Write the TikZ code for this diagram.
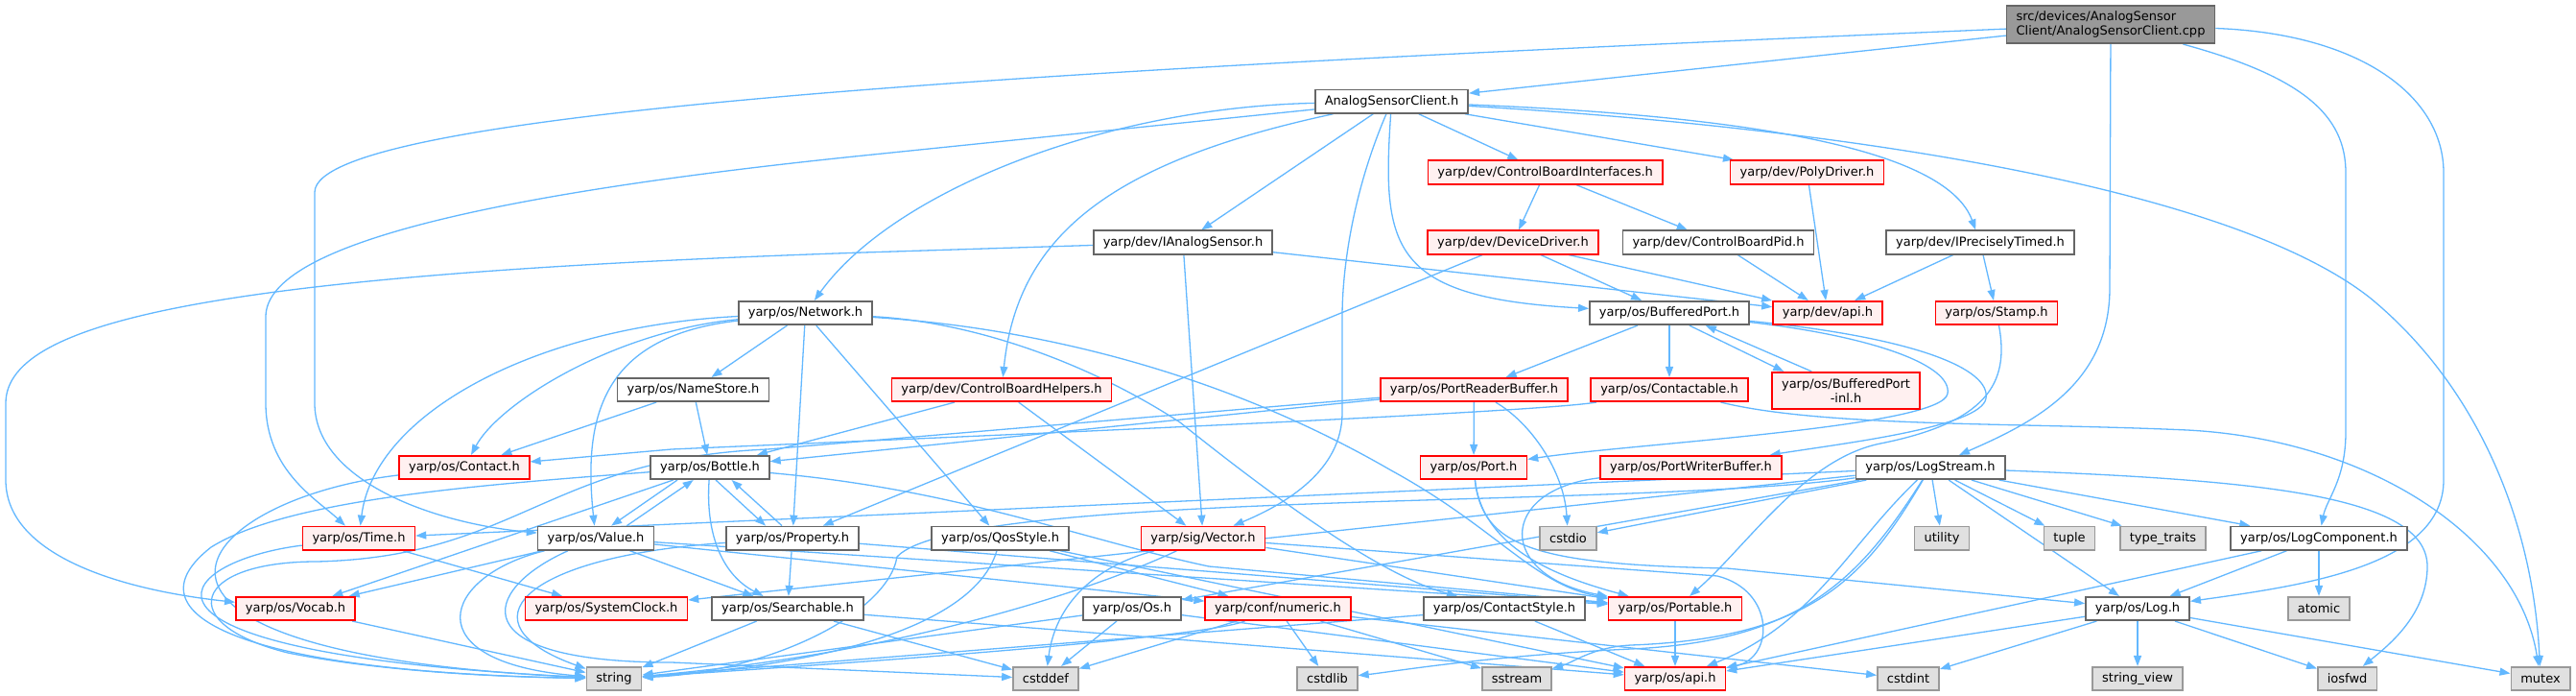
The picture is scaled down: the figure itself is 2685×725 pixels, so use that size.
\documentclass[tikz,border=0pt]{standalone}
\usepackage{fontspec}
\setmainfont{DejaVu Sans}
\usepackage{tikz}
\usetikzlibrary{arrows.meta}
\definecolor{edgeblue}{HTML}{63B8FF}
\definecolor{truncred}{HTML}{FF0000}
\definecolor{truncfill}{HTML}{FFF0F0}
\definecolor{sysfill}{HTML}{E0E0E0}
\definecolor{sysline}{HTML}{999999}
\definecolor{fileline}{HTML}{666666}
\definecolor{mainfill}{HTML}{999999}
\pgfdeclarelayer{bg}
\pgfsetlayers{bg,main}

\begin{document}
\begin{tikzpicture}[x=1pt, y=-1pt,
    nodebox/.style={draw, line width=1.6pt, minimum height=24.5pt, inner xsep=10pt, inner ysep=1pt, font=\fontsize{13}{15}\selectfont},
    hdr/.style={nodebox, draw=fileline, fill=white},
    trunchdr/.style={nodebox, draw=truncred, fill=truncfill},
    syshdr/.style={nodebox, draw=sysline, fill=sysfill},
    mainhdr/.style={nodebox, draw=fileline, fill=mainfill, align=left, minimum height=39.5pt},
    dep/.style={draw=edgeblue, line width=1.3pt, -{Triangle[length=11pt,width=8pt]}}]
                \useasboundingbox (0,0) rectangle (2685,725);

                % 1. The source file and the headers, row by row
                \node[mainhdr] (cpp) at (2200,25.5) {src/devices/AnalogSensor\\Client/AnalogSensorClient.cpp};
                \node[hdr] (asc) at (1450.5,105.7) {AnalogSensorClient.h};

                \node[trunchdr] (cbi) at (1610.6,179.5) {yarp/dev/ControlBoardInterfaces.h};
                \node[trunchdr] (poly) at (1883.5,179.5) {yarp/dev/PolyDriver.h};

                \node[hdr] (ias) at (1233,252.5) {yarp/dev/IAnalogSensor.h};
                \node[trunchdr] (dd) at (1577,252.5) {yarp/dev/DeviceDriver.h};
                \node[hdr] (cbp) at (1791,252.5) {yarp/dev/ControlBoardPid.h};
                \node[hdr] (ipt) at (2064,252.5) {yarp/dev/IPreciselyTimed.h};

                \node[hdr] (net) at (839.5,326) {yarp/os/Network.h};
                \node[hdr] (bp) at (1740,326) {yarp/os/BufferedPort.h};
                \node[trunchdr] (devapi) at (1905,326) {yarp/dev/api.h};
                \node[trunchdr] (stamp) at (2081,326) {yarp/os/Stamp.h};

                \node[hdr] (ns) at (722.5,406) {yarp/os/NameStore.h};
                \node[trunchdr] (cbh) at (1044,406) {yarp/dev/ControlBoardHelpers.h};
                \node[trunchdr] (prb) at (1536.4,406) {yarp/os/PortReaderBuffer.h};
                \node[trunchdr] (ctb) at (1740,406) {yarp/os/Contactable.h};
                \node[trunchdr, align=center, minimum height=38pt] (bpinl) at (1924,406.7) {yarp/os/BufferedPort\\-inl.h};

                \node[trunchdr] (contact) at (484,487) {yarp/os/Contact.h};
                \node[hdr] (bottle) at (740,487) {yarp/os/Bottle.h};
                \node[trunchdr] (port) at (1536,487) {yarp/os/Port.h};
                \node[trunchdr] (pwb) at (1762.5,487) {yarp/os/PortWriterBuffer.h};
                \node[hdr] (ls) at (2012,487) {yarp/os/LogStream.h};

                \node[trunchdr] (time) at (374,560.7) {yarp/os/Time.h};
                \node[hdr] (value) at (621,560.7) {yarp/os/Value.h};
                \node[hdr] (prop) at (826,560.7) {yarp/os/Property.h};
                \node[hdr] (qos) at (1042.6,560.7) {yarp/os/QosStyle.h};
                \node[trunchdr] (vec) at (1254,560.7) {yarp/sig/Vector.h};
                \node[syshdr] (cstdio) at (1634.5,560.7) {cstdio};
                \node[syshdr] (utility) at (2024,560.7) {utility};
                \node[syshdr] (tuple) at (2157,560.7) {tuple};
                \node[syshdr] (traits) at (2254.5,560.7) {type\_traits};
                \node[hdr] (lc) at (2417,560.7) {yarp/os/LogComponent.h};

                \node[trunchdr] (vocab) at (308,634) {yarp/os/Vocab.h};
                \node[trunchdr] (sc) at (632,634) {yarp/os/SystemClock.h};
                \node[hdr] (srch) at (821,634) {yarp/os/Searchable.h};
                \node[hdr] (os) at (1180,634) {yarp/os/Os.h};
                \node[trunchdr] (num) at (1332,634) {yarp/conf/numeric.h};
                \node[hdr] (cs) at (1568,634) {yarp/os/ContactStyle.h};
                \node[trunchdr] (portable) at (1746,634) {yarp/os/Portable.h};
                \node[hdr] (log) at (2228,634) {yarp/os/Log.h};
                \node[syshdr] (atomic) at (2417,634) {atomic};

                \node[syshdr] (string) at (640,707) {string};
                \node[syshdr] (cstddef) at (1090,707) {cstddef};
                \node[syshdr] (cstdlib) at (1383.5,707) {cstdlib};
                \node[syshdr] (sstream) at (1581,707) {sstream};
                \node[trunchdr] (osapi) at (1746,707) {yarp/os/api.h};
                \node[syshdr] (cstdint) at (1989,707) {cstdint};
                \node[syshdr] (sview) at (2228,707) {string\_view};
                \node[syshdr] (iosfwd) at (2446.6,707) {iosfwd};
                \node[syshdr] (mutex) at (2648,707) {mutex};

                \begin{pgfonlayer}{bg}
                \fill[white] (0,0) rectangle (2685,725);

                % 2. Includes of the source file
                \draw[dep] (cpp) -- (asc);
                \draw[dep] (cpp) .. controls (1200,68) and (330,110) .. (328,200) -- (328,420) .. controls (328,500) and (450,545) .. (value);
                \draw[dep] (cpp) -- (2199,300) .. controls (2199,400) and (2120,440) .. (ls);
                \draw[dep] (cpp) .. controls (2400,80) and (2445,120) .. (2445,180) -- (2445,450) .. controls (2445,500) and (2425,520) .. (lc);
                \draw[dep] (cpp) .. controls (2460,35) and (2547,100) .. (2547,180) -- (2547,500) .. controls (2547,590) and (2400,610) .. (log);

                % 3. Includes of AnalogSensorClient.h
                \draw[dep] (asc) .. controls (1150,112) and (930,200) .. (net);
                \draw[dep] (asc) -- (900,162) .. controls (480,205) and (277,260) .. (277,330) -- (277,420) .. controls (277,490) and (330,520) .. (time);
                \draw[dep] (asc) .. controls (1150,170) and (1060,250) .. (cbh);
                \draw[dep] (asc) -- (ias);
                \draw[dep] (asc) .. controls (1410,200) and (1399,280) .. (1399,330) -- (1399,430) .. controls (1399,490) and (1340,525) .. (vec);
                \draw[dep] (asc) .. controls (1440,260) and (1450,310) .. (bp);
                \draw[dep] (asc) -- (cbi);
                \draw[dep] (asc) -- (poly);
                \draw[dep] (asc) .. controls (1850,122) and (2030,160) .. (ipt);
                \draw[dep] (asc) .. controls (1950,135) and (2330,200) .. (2470,310) .. controls (2580,400) and (2640,540) .. (mutex);

                % 4. yarp/dev headers
                \draw[dep] (ias) -- (900,263) .. controls (250,285) and (6,330) .. (6,420) -- (6,500) .. controls (6,580) and (130,615) .. (vocab);
                \draw[dep] (ias) -- (vec);
                \draw[dep] (ias) -- (devapi);
                \draw[dep] (cbi) -- (dd);
                \draw[dep] (cbi) -- (cbp);
                \draw[dep] (poly) -- (devapi);
                \draw[dep] (dd) -- (bp);
                \draw[dep] (dd) -- (devapi);
                \draw[dep] (dd) -- (prop);
                \draw[dep] (cbp) -- (devapi);
                \draw[dep] (ipt) -- (devapi);
                \draw[dep] (ipt) -- (stamp);
                \draw[dep] (cbh) -- (bottle);
                \draw[dep] (cbh) -- (vec);

                % 5. Network.h and NameStore.h
                \draw[dep] (net) -- (ns);
                \draw[dep] (net) .. controls (640,345) and (520,420) .. (contact);
                \draw[dep] (net) .. controls (560,340) and (390,430) .. (time);
                \draw[dep] (net) .. controls (630,350) and (607,430) .. (value);
                \draw[dep] (net) -- (prop);
                \draw[dep] (net) -- (qos);
                \draw[dep] (net) .. controls (1010,335) and (1130,375) .. (1230,440) .. controls (1330,520) and (1440,600) .. (cs);
                \draw[dep] (net) .. controls (1060,340) and (1260,380) .. (1450,490) .. controls (1560,550) and (1600,610) .. (portable);
                \draw[dep] (ns) -- (contact);
                \draw[dep] (ns) -- (bottle);

                % 6. BufferedPort.h and the port headers
                \draw[dep] (bp) -- (prb);
                \draw[dep] (bp) -- (ctb);
                \draw[dep] (bp.-32) -- (bpinl.163);
                \draw[dep] (bpinl.151) -- (bp.-19);
                \draw[dep] (bp) .. controls (1950,350) and (2035,380) .. (2030,410) .. controls (2025,445) and (1700,462) .. (port);
                \draw[dep] (bp) .. controls (2000,352) and (2075,385) .. (2070,415) .. controls (2065,445) and (1920,462) .. (pwb);
                \draw[dep] (prb) -- (port);
                \draw[dep] (prb) .. controls (1595,440) and (1630,490) .. (cstdio);
                \draw[dep] (prb) -- (bottle);
                \draw[dep] (prb) -- (800,468) .. controls (570,478) and (540,580) .. (330,585) .. controls (200,585) and (180,650) .. (300,680) .. controls (400,700) and (520,705) .. (string);
                \draw[dep] (ctb) .. controls (1600,430) and (1000,455) .. (700,468) -- (contact);
                \draw[dep] (ctb) .. controls (1900,445) and (2100,440) .. (2280,448) .. controls (2470,458) and (2625,560) .. (mutex);
                \draw[dep] (stamp) .. controls (2095,400) and (2070,440) .. (1960,462) .. controls (1880,478) and (1820,570) .. (portable);
                \draw[dep] (port) .. controls (1545,570) and (1620,600) .. (portable);
                \draw[dep] (port) .. controls (1545,570) and (1600,588) .. (1800,592) -- (log);
                \draw[dep] (pwb) .. controls (1560,510) and (1560,600) .. (portable);

                % 7. LogStream.h, LogComponent.h and Log.h
                \draw[dep] (ls) -- (utility);
                \draw[dep] (ls) -- (tuple);
                \draw[dep] (ls) -- (traits);
                \draw[dep] (ls) -- (lc);
                \draw[dep] (ls) -- (log);
                \draw[dep] (ls) .. controls (2350,500) and (2530,515) .. (2530,590) .. controls (2530,640) and (2490,672) .. (iosfwd);
                \draw[dep] (ls) -- (time);
                \draw[dep] (ls) -- (sc);
                \draw[dep] (ls) -- (os);
                \draw[dep] (ls) -- (cstdio);
                \draw[dep] (ls) .. controls (1945,600) and (1890,665) .. (1700,672) .. controls (1660,674) and (1640,690) .. (sstream);
                \draw[dep] (ls) .. controls (1940,600) and (1880,668) .. (1700,676) .. controls (1550,683) and (1450,700) .. (cstdlib);
                \draw[dep] (ls) .. controls (1700,530) and (1000,510) .. (935,580) .. controls (925,640) and (800,700) .. (string);
                \draw[dep] (ls) .. controls (1925,570) and (1890,650) .. (osapi);
                \draw[dep] (lc) -- (log);
                \draw[dep] (lc) -- (atomic);
                \draw[dep] (lc) -- (osapi);
                \draw[dep] (log) -- (osapi);
                \draw[dep] (log) -- (cstdint);
                \draw[dep] (log) -- (sview);
                \draw[dep] (log) -- (iosfwd);
                \draw[dep] (log) -- (mutex);

                % 8. Bottle.h, Value.h and Property.h
                \draw[dep] (bottle.-159) -- (value.39);
                \draw[dep] (value.22) -- (bottle.-143);
                \draw[dep] (bottle.-65) -- (prop.155);
                \draw[dep] (prop.130) -- (bottle.-30);
                \draw[dep] (bottle) .. controls (735,560) and (755,600) .. (srch);
                \draw[dep] (bottle) -- (vocab);
                \draw[dep] (bottle) .. controls (500,505) and (300,520) .. (220,570) .. controls (130,640) and (250,700) .. (string);
                \draw[dep] (bottle) .. controls (1000,510) and (1120,560) .. (1260,590) -- (portable);
                \draw[dep] (value) -- (vocab);
                \draw[dep] (value) -- (srch);
                \draw[dep] (value) .. controls (460,600) and (430,690) .. (string);
                \draw[dep] (value) -- (portable);
                \draw[dep] (value) -- (num);
                \draw[dep] (value) .. controls (500,615) and (480,690) .. (700,690) -- (cstddef);
                \draw[dep] (prop) -- (srch);
                \draw[dep] (prop) .. controls (540,580) and (480,650) .. (string);
                \draw[dep] (prop) -- (portable);

                % 9. The lower headers
                \draw[dep] (srch) -- (string);
                \draw[dep] (srch) -- (cstddef);
                \draw[dep] (srch) -- (osapi);
                \draw[dep] (time) -- (sc);
                \draw[dep] (time) .. controls (180,585) and (90,680) .. (string);
                \draw[dep] (contact) .. controls (200,520) and (60,680) .. (string);
                \draw[dep] (vocab) -- (string);
                \draw[dep] (qos) .. controls (1020,640) and (900,690) .. (string);
                \draw[dep] (qos) -- (num);
                \draw[dep] (qos) -- (osapi);
                \draw[dep] (vec) .. controls (1140,590) and (1100,630) .. (cstddef);
                \draw[dep] (vec) .. controls (1150,610) and (950,680) .. (string);
                \draw[dep] (vec) -- (portable);
                \draw[dep] (vec) -- (1790,600) .. controls (1850,615) and (1850,685) .. (osapi);
                \draw[dep] (os) -- (cstddef);
                \draw[dep] (os) -- (string);
                \draw[dep] (os) -- (osapi);
                \draw[dep] (num) -- (cstdlib);
                \draw[dep] (num) -- (sstream);
                \draw[dep] (num) -- (cstddef);
                \draw[dep] (num) .. controls (1250,665) and (900,690) .. (string);
                \draw[dep] (num) -- (cstdint);
                \draw[dep] (cs) -- (osapi);
                \draw[dep] (cs) -- (string);
                \draw[dep] (portable) -- (osapi);
                \end{pgfonlayer}
            \end{tikzpicture}
\end{document}
